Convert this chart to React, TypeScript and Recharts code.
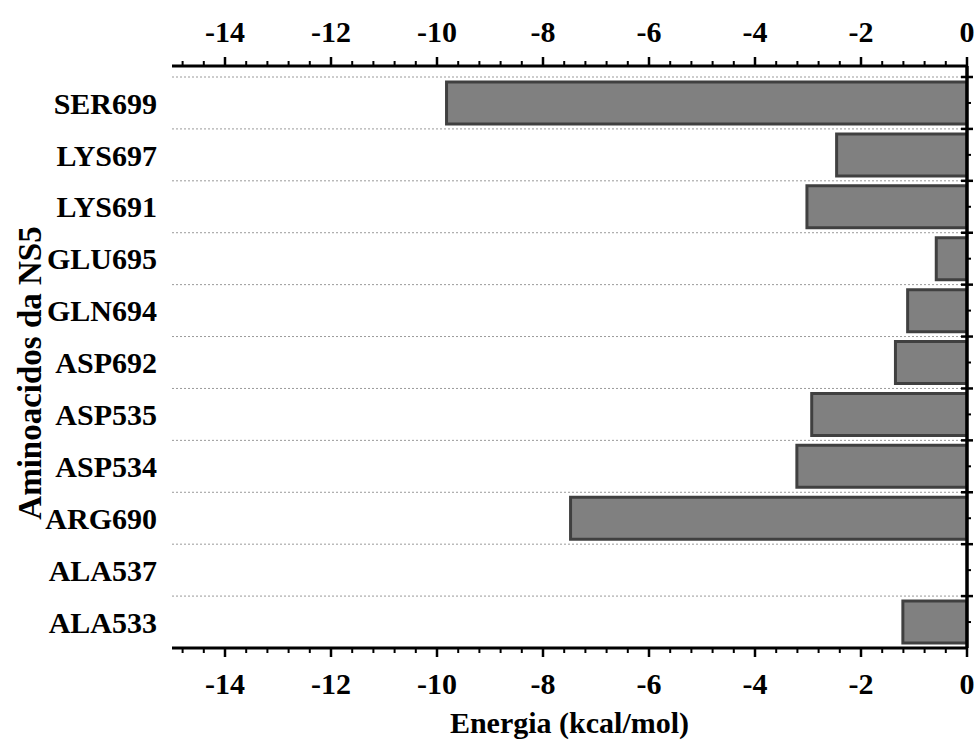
import {
    BarChart,
    Bar,
    XAxis,
    YAxis,
    CartesianGrid,
    ReferenceLine,
} from "recharts";

const residues = [
    "SER699",
    "LYS697",
    "LYS691",
    "GLU695",
    "GLN694",
    "ASP692",
    "ASP535",
    "ASP534",
    "ARG690",
    "ALA537",
    "ALA533",
];
const energies = [-9.82, -2.46, -3.02, -0.58, -1.12, -1.35, -2.93, -3.21, -7.48, 0, -1.21];

const majorTicks = [-14, -12, -10, -8, -6, -4, -2, 0];
const X_MIN = -15;
const X_MAX = 0;

const data = residues.map((name, i) => ({ name, energia: energies[i] }));

// minor ticks every 0.4 between majors
const minorTicks: number[] = [];
for (let v = -14.8; v < -0.1; v += 0.4) {
    const r = Math.round(v * 10) / 10;
    if (Math.abs(r % 2) > 0.01) minorTicks.push(r);
}

const FONT = "'Liberation Serif', 'Times New Roman', serif";
const W = 975;
const H = 743;
const TOP = 66;
const BOTTOM_H = 95;
const LEFT_W = 172;
const PAD_TOP = 11;
const plotH = H - TOP - BOTTOM_H;
const band = (plotH - PAD_TOP) / residues.length;

const textStyle = { fontSize: 30, fontWeight: "bold", fill: "#000", fontFamily: FONT };

const yTitle = (props: any) => {
    const vb = props.viewBox;
    const x = 41;
    const y = vb.y + vb.height / 2 + 16;
    return (
        <text
            x={x}
            y={y}
            transform={`rotate(-90 ${x} ${y})`}
            textAnchor="middle"
            fontSize={33}
            fontWeight="bold"
            fontFamily={FONT}
            fill="#000"
        >
            Aminoacidos da NS5
        </text>
    );
};

// tick marks for an x axis, drawn inside its label so they follow the axis box
const tickMarks = (vb: any, dir: number) => {
    const base = dir < 0 ? vb.y + vb.height : vb.y;
    const px = (v: number) => vb.x + ((v - X_MIN) / (X_MAX - X_MIN)) * vb.width;
    return (
        <g>
            {minorTicks.map((v) => (
                <line
                    key={"m" + v}
                    x1={px(v)}
                    x2={px(v)}
                    y1={base}
                    y2={base + dir * 5}
                    stroke="#000"
                    strokeWidth={2}
                />
            ))}
            {majorTicks.map((v) => (
                <line
                    key={"M" + v}
                    x1={px(v)}
                    x2={px(v)}
                    y1={base}
                    y2={base + dir * 9}
                    stroke="#000"
                    strokeWidth={2.5}
                />
            ))}
        </g>
    );
};

const topLabel = (props: any) => tickMarks(props.viewBox, -1);

const bottomLabel = (props: any) => {
    const vb = props.viewBox;
    return (
        <g>
            {tickMarks(vb, 1)}
            <text
                x={vb.x + vb.width / 2}
                y={vb.y + 85}
                textAnchor="middle"
                fontSize={30}
                fontWeight="bold"
                fontFamily={FONT}
                fill="#000"
            >
                Energia (kcal/mol)
            </text>
        </g>
    );
};

const topTick = (p: any) => (
    <text x={p.x} y={p.y - 24} textAnchor="middle" {...textStyle}>
        {p.payload.value}
    </text>
);
const bottomTick = (p: any) => (
    <text x={p.x} y={p.y + 46} textAnchor="middle" {...textStyle}>
        {p.payload.value}
    </text>
);
const rightTick = (p: any) => (
    <g>
        <line
            x1={p.x - 6}
            x2={p.x + 6}
            y1={p.y - band / 2}
            y2={p.y - band / 2}
            stroke="#000"
            strokeWidth={2.5}
        />
        <line x1={p.x} x2={p.x + 4} y1={p.y} y2={p.y} stroke="#000" strokeWidth={2} />
    </g>
);

const gridLines = ({ offset }: any) =>
    residues.map((_, i) => offset.top + PAD_TOP + i * band);

const App = () => {
    return (
        <div style={{ position: "absolute", left: 0, top: 0 }}>
            <BarChart
                width={W}
                height={H}
                data={data}
                layout="vertical"
                margin={{ top: 0, right: 7, left: 0, bottom: 0 }}
                barSize={42}
            >
                <CartesianGrid
                    xAxisId="bottom"
                    yAxisId="cat"
                    vertical={false}
                    stroke="#9a9a9a"
                    strokeDasharray="2 2"
                    horizontalCoordinatesGenerator={gridLines}
                />
                <XAxis
                    xAxisId="top"
                    orientation="top"
                    type="number"
                    domain={[X_MIN, X_MAX]}
                    ticks={majorTicks}
                    allowDataOverflow
                    height={TOP}
                    axisLine={{ stroke: "#000", strokeWidth: 3 }}
                    tickLine={false}
                    tickSize={0}
                    tickMargin={0}
                    tick={topTick}
                    interval={0}
                    label={{ content: topLabel }}
                />
                <XAxis
                    xAxisId="bottom"
                    orientation="bottom"
                    type="number"
                    domain={[X_MIN, X_MAX]}
                    ticks={majorTicks}
                    allowDataOverflow
                    height={BOTTOM_H}
                    axisLine={{ stroke: "#000", strokeWidth: 3 }}
                    tickLine={false}
                    tickSize={0}
                    tickMargin={0}
                    tick={bottomTick}
                    interval={0}
                    label={{ content: bottomLabel }}
                />
                <YAxis
                    yAxisId="cat"
                    type="category"
                    dataKey="name"
                    width={LEFT_W}
                    padding={{ top: PAD_TOP, bottom: 0 }}
                    axisLine={false}
                    tickLine={false}
                    tickSize={0}
                    tickMargin={15}
                    tick={textStyle}
                    interval={0}
                    label={{ content: yTitle }}
                />
                <YAxis
                    yAxisId="right"
                    orientation="right"
                    type="category"
                    dataKey="name"
                    width={1}
                    padding={{ top: PAD_TOP, bottom: 0 }}
                    axisLine={{ stroke: "#000", strokeWidth: 3 }}
                    tickLine={false}
                    tickSize={0}
                    tickMargin={0}
                    tick={rightTick}
                    interval={0}
                />
                <Bar
                    xAxisId="bottom"
                    yAxisId="cat"
                    dataKey="energia"
                    fill="#808080"
                    stroke="#404040"
                    strokeWidth={3}
                    isAnimationActive={false}
                />
                <ReferenceLine
                    x={0}
                    xAxisId="bottom"
                    yAxisId="cat"
                    stroke="#000"
                    strokeWidth={3}
                    ifOverflow="visible"
                />
            </BarChart>
        </div>
    );
};

export default App;
